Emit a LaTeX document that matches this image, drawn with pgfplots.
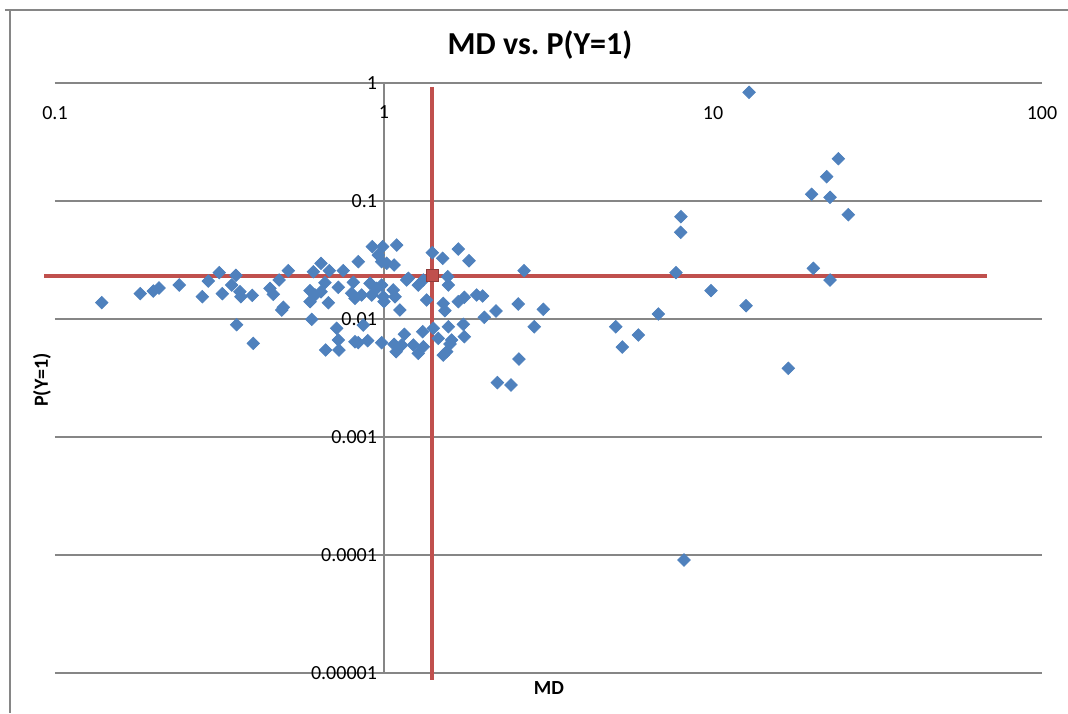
\documentclass[border=0pt]{standalone}
\usepackage{fontspec}
\setmainfont{Carlito}
\usepackage{pgfplots}
\pgfplotsset{compat=1.18}
\definecolor{xlblue}{HTML}{4F81BD}
\definecolor{xlred}{HTML}{C0504D}
\definecolor{xlgrid}{RGB}{134,134,134}

\begin{document}
\begin{tikzpicture}
\useasboundingbox (-27.5pt,-20pt) rectangle (506.5pt,336.5pt);
% chart frame (top and left edges visible)
\draw[xlgrid, line width=0.6pt] (-25pt,331.5pt) -- (506.5pt,331.5pt);
\draw[xlgrid, line width=0.6pt] (-22.5pt,331.5pt) -- (-22.5pt,-20pt);
\begin{axis}[
    at={(0pt,0pt)}, anchor=south west,
    scale only axis,
    width=493.5pt, height=295pt,
    xmode=log, ymode=log,
    xmin=0.1, xmax=100, ymin=0.00001, ymax=1,
    axis lines=center,
    axis line style={-, draw=xlgrid, line width=0.6pt},
    hide obscured x ticks=false, hide obscured y ticks=false,
    xtick={0.1,1,10,100}, xticklabels={0.1,1,10,100},
    ytick={0.00001,0.0001,0.001,0.01,0.1,1},
    yticklabels={0.00001,0.0001,0.001,0.01,0.1,1},
    xminorticks=false, yminorticks=false,
    major tick length=0pt,
    ymajorgrids, grid style={xlgrid, line width=0.6pt},
    tick label style={font=\fontsize{10}{11}\selectfont},
    xticklabel style={yshift=-8pt},
    clip=false,
]
% MD vs P(Y=1)
\addplot[only marks, mark=square*, mark size=2.2pt, color=xlblue,
    mark options={rotate=45}] coordinates {
    (0.1387,0.01375) (0.1816,0.01639) (0.1990,0.01727) (0.2071,0.01831)
    (0.2386,0.01941) (0.2804,0.01545) (0.2924,0.02099) (0.3157,0.02469)
    (0.3226,0.01639) (0.3444,0.01941) (0.3549,0.02346) (0.3649,0.01703)
    (0.3675,0.01545) (0.3566,0.00895) (0.4006,0.00622) (0.3978,0.01588)
    (0.4502,0.01820) (0.4607,0.01620) (0.4798,0.02140) (0.5118,0.02567)
    (0.4888,0.01192) (0.4942,0.01257) (0.6030,0.00994) (0.6435,0.02965)
    (0.6099,0.02517) (0.6820,0.02567) (0.7519,0.02567) (0.6617,0.02030)
    (0.5959,0.01738) (0.6170,0.01597) (0.6435,0.01703) (0.5959,0.01402)
    (0.6773,0.01374) (0.7263,0.01856) (0.8067,0.02047) (0.7977,0.01651)
    (0.8163,0.01497) (0.8554,0.01597) (0.9068,0.02007) (0.9175,0.01597)
    (0.9502,0.01820) (0.9840,0.01941) (0.9950,0.01545) (1.000,0.01402)
    (1.067,0.01761) (1.080,0.01545) (1.172,0.02140) (1.118,0.01192)
    (0.9214,0.04099) (0.9910,0.04099) (1.093,0.04237) (0.8352,0.03059)
    (0.9609,0.03486) (0.9840,0.03059) (1.019,0.02965) (1.073,0.02869)
    (1.682,0.03918) (1.402,0.03646) (1.508,0.03268) (1.813,0.03118)
    (2.665,0.02567) (1.186,0.02213) (1.271,0.01941) (1.317,0.02140)
    (1.562,0.02283) (1.569,0.01941) (1.348,0.01449) (1.514,0.01358)
    (1.532,0.01176) (1.682,0.01402) (1.754,0.01527) (1.913,0.01597)
    (1.995,0.01566) (2.018,0.01034) (2.190,0.01169) (2.559,0.01340)
    (3.050,0.01208) (2.862,0.00860) (1.311,0.00781) (1.412,0.00834)
    (1.569,0.00860) (1.742,0.00902) (1.754,0.00708) (1.462,0.00686)
    (1.606,0.00664) (1.587,0.00614) (1.551,0.00528) (1.514,0.00495)
    (1.271,0.00512) (1.317,0.00582) (1.132,0.00602) (1.228,0.00602)
    (2.572,0.00458) (2.211,0.00289) (2.432,0.00276) (0.7182,0.00834)
    (0.8652,0.00889) (0.6649,0.00546) (0.7263,0.00664) (0.7298,0.00546)
    (0.8163,0.00642) (0.8352,0.00630) (0.8920,0.00655) (0.9840,0.00630)
    (1.073,0.00610) (1.088,0.00528) (1.153,0.00742)
    (7.992,0.07360) (7.976,0.05428) (7.718,0.02469) (9.861,0.01738)
    (12.60,0.01296) (6.821,0.01103) (5.062,0.00860) (5.929,0.00732)
    (5.300,0.00579) (16.94,0.00382) (12.87,0.8340) (24.04,0.2283)
    (22.16,0.1606) (19.95,0.1140) (22.68,0.1075) (25.77,0.07652)
    (20.18,0.02690) (22.68,0.02140) (8.162,0.0000907)
};
% mean point with its cross lines
\addplot[color=xlred, line width=2pt] coordinates {(1.40,0.925) (1.40,0.0000087)};
\addplot[color=xlred, line width=2pt] coordinates {(0.0926,0.0233) (68,0.0233)};
\addplot[only marks, mark=square*, mark size=3pt,
    mark options={fill=xlred, draw=xlred!75!black}] coordinates {(1.40,0.0233)};
\end{axis}
\node[font=\fontsize{16}{18}\selectfont\bfseries] at (242.5pt,314pt) {MD vs.\ P(Y=1)};
\node[font=\fontsize{10}{11}\selectfont\bfseries] at (247pt,-7.5pt) {MD};
\node[font=\fontsize{10}{11}\selectfont\bfseries, rotate=90] at (-6.5pt,146.5pt) {P(Y=1)};
\end{tikzpicture}
\end{document}
